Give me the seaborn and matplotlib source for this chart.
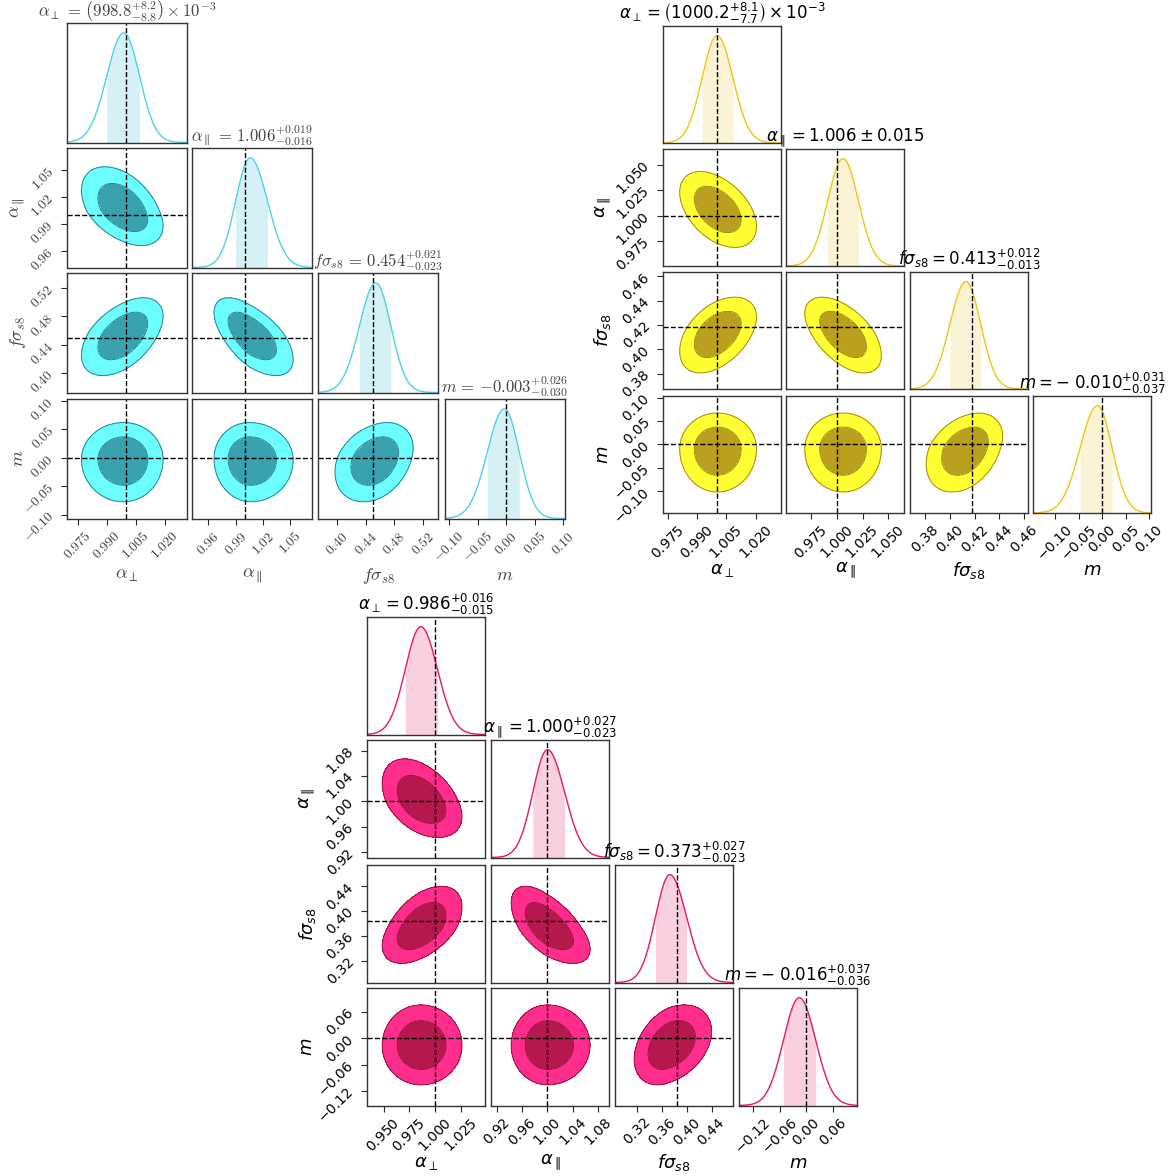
# %%
import numpy as np
import matplotlib.pyplot as plt
import seaborn as sns

sns.set_style("ticks")

# %%
# parameter names (same for the three corner plots)
labels = [r"$\alpha_\perp$", r"$\alpha_\parallel$", r"$f\sigma_{s8}$", r"$m$"]

# cyan chain (top left)
cyan_med = [0.9988, 1.006, 0.454, -0.003]
cyan_up = [0.0082, 0.019, 0.021, 0.026]
cyan_lo = [0.0088, 0.016, 0.023, 0.030]
cyan_truth = [1.0, 1.0, 0.450, 0.0]
cyan_lims = [(0.9694, 1.0316), (0.942, 1.074), (0.373, 0.541), (-0.107, 0.103)]
cyan_ticks = [[0.975, 0.990, 1.005, 1.020], [0.96, 0.99, 1.02, 1.05],
              [0.40, 0.44, 0.48, 0.52], [-0.10, -0.05, 0.00, 0.05, 0.10]]
cyan_dec = [3, 2, 2, 2]
cyan_corr = {(1, 0): -0.45, (2, 0): 0.50, (2, 1): -0.60,
             (3, 0): 0.0, (3, 1): -0.02, (3, 2): 0.30}
cyan_titles = [r"$\alpha_\perp \,=\, \left(998.8^{+8.2}_{-8.8}\right) \times 10^{-3}$",
               r"$\alpha_\parallel \,=\, 1.006^{+0.019}_{-0.016}$",
               r"$f\sigma_{s8} \,=\, 0.454^{+0.021}_{-0.023}$",
               r"$m \,=\, {-0.003}^{+0.026}_{-0.030}$"]

# yellow chain (top right)
yel_med = [1.0002, 1.006, 0.413, -0.010]
yel_up = [0.0081, 0.015, 0.012, 0.031]
yel_lo = [0.0077, 0.015, 0.013, 0.037]
yel_truth = [1.0, 1.0, 0.418, 0.0]
yel_lims = [(0.9725, 1.0329), (0.9504, 1.0654), (0.3675, 0.4635), (-0.147, 0.1036)]
yel_ticks = [[0.975, 0.990, 1.005, 1.020], [0.975, 1.000, 1.025, 1.050],
             [0.38, 0.40, 0.42, 0.44, 0.46], [-0.10, -0.05, 0.00, 0.05, 0.10]]
yel_dec = [3, 3, 2, 2]
yel_corr = {(1, 0): -0.45, (2, 0): 0.45, (2, 1): -0.55,
            (3, 0): 0.0, (3, 1): 0.0, (3, 2): 0.35}
yel_titles = [r"$\alpha_\perp = \left(1000.2^{+8.1}_{-7.7}\right) \times 10^{-3}$",
              r"$\alpha_\parallel = 1.006 \pm 0.015$",
              r"$f\sigma_{s8} = 0.413^{+0.012}_{-0.013}$",
              r"$m = -\;0.010^{+0.031}_{-0.037}$"]

# magenta chain (bottom)
mag_med = [0.986, 1.000, 0.373, -0.016]
mag_up = [0.016, 0.027, 0.027, 0.037]
mag_lo = [0.015, 0.023, 0.023, 0.036]
mag_truth = [1.0, 1.0, 0.384, 0.0]
mag_lims = [(0.934, 1.048), (0.911, 1.097), (0.285, 0.4745), (-0.1525, 0.1145)]
mag_ticks = [[0.950, 0.975, 1.000, 1.025], [0.92, 0.96, 1.00, 1.04, 1.08],
             [0.32, 0.36, 0.40, 0.44], [-0.12, -0.06, 0.00, 0.06]]
mag_dec = [3, 2, 2, 2]
mag_corr = {(1, 0): -0.42, (2, 0): 0.50, (2, 1): -0.60,
            (3, 0): 0.0, (3, 1): 0.0, (3, 2): 0.35}
mag_titles = [r"$\alpha_\perp = 0.986^{+0.016}_{-0.015}$",
              r"$\alpha_\parallel = 1.000^{+0.027}_{-0.023}$",
              r"$f\sigma_{s8} = 0.373^{+0.027}_{-0.023}$",
              r"$m = -\;0.016^{+0.037}_{-0.036}$"]

# %%
W, H = 1175, 1176
fig = plt.figure(figsize=(W / 100, H / 100), dpi=100)


def add_ax(x, y, w, h):
    return fig.add_axes([x / W, 1 - (y + h) / H, w / W, h / H])


def split_z(v, mu, lo, up):
    return (v - mu) / np.where(v < mu, lo, up)


def corner(med, up, lo, truth, lims, ticks, dec, corr, titles,
           lefts, tops, w, h, cols, mfont, tcol, xoff, yoff):
    line_c, shade_c, inner_c, outer_c, edge_c = cols
    n = len(med)
    for i in range(n):
        for j in range(i + 1):
            ax = add_ax(lefts[j], tops[i], w, h)
            xs = np.linspace(lims[j][0], lims[j][1], 300)
            if i == j:
                pdf = np.exp(-0.5 * split_z(xs, med[i], lo[i], up[i]) ** 2)
                sns.lineplot(x=xs, y=pdf, ax=ax, color=line_c, lw=1)
                xb = np.linspace(med[i] - lo[i], med[i] + up[i], 100)
                pb = np.exp(-0.5 * split_z(xb, med[i], lo[i], up[i]) ** 2)
                ax.fill_between(xb, 0, pb, color=shade_c, lw=0)
                ax.axvline(truth[i], color="k", ls="--", lw=1)
                ax.set_ylim(0, 1.09)
                ax.set_title(titles[i], fontsize=12, color=tcol,
                             math_fontfamily=mfont, pad=4)
            else:
                ys = np.linspace(lims[i][0], lims[i][1], 300)
                X, Y = np.meshgrid(xs, ys)
                zx = split_z(X, med[j], lo[j], up[j])
                zy = split_z(Y, med[i], lo[i], up[i])
                r = corr[(i, j)]
                d2 = (zx ** 2 - 2 * r * zx * zy + zy ** 2) / (1 - r ** 2)
                ax.contourf(X, Y, d2, levels=[0, 2.30, 6.18],
                            colors=[inner_c, outer_c])
                ax.contour(X, Y, d2, levels=[2.30, 6.18], colors=edge_c,
                           linewidths=0.7)
                ax.axvline(truth[j], color="k", ls="--", lw=1)
                ax.axhline(truth[i], color="k", ls="--", lw=1)
                ax.set_ylim(lims[i])
            ax.set_xlim(lims[j])

            if i == n - 1:
                ax.set_xticks(ticks[j], labels=[f"${t:.{dec[j]}f}$" for t in ticks[j]],
                              rotation=45, fontsize=10, color=tcol,
                              math_fontfamily=mfont)
                ax.set_xlabel(labels[j], fontsize=13, color=tcol,
                              math_fontfamily=mfont, va="center")
                ax.xaxis.set_label_coords(0.5, -xoff / h)
            else:
                ax.set_xticks([])
            if j == 0 and i > 0:
                ax.set_yticks(ticks[i], labels=[f"${t:.{dec[i]}f}$" for t in ticks[i]],
                              rotation=45, fontsize=10, color=tcol,
                              math_fontfamily=mfont)
                ax.set_ylabel(labels[i], fontsize=13, color=tcol,
                              math_fontfamily=mfont, va="center", ha="center")
                ax.yaxis.set_label_coords(-yoff / w, 0.5)
            else:
                ax.set_yticks([])
            ax.tick_params(direction="out", length=4, width=0.8)
            for s in ax.spines.values():
                s.set_color("#333333")
                s.set_linewidth(1)


# %%
corner(cyan_med, cyan_up, cyan_lo, cyan_truth, cyan_lims, cyan_ticks, cyan_dec,
       cyan_corr, cyan_titles, [67, 192, 318, 445], [23, 148, 273, 399], 120, 119.5,
       ["#4dd3e2", "#d6f1f5", "#3aa2ae", "#6cfdff", "#2d8390"], "cm", "#444444", 57, 49)

corner(yel_med, yel_up, yel_lo, yel_truth, yel_lims, yel_ticks, yel_dec,
       yel_corr, yel_titles, [663, 786, 910, 1033], [26, 149, 272, 396], 118, 117,
       ["#f3c512", "#faf3d6", "#bba020", "#ffff33", "#9c8a1c"], "dejavusans", "black", 57, 60)

corner(mag_med, mag_up, mag_lo, mag_truth, mag_lims, mag_ticks, mag_dec,
       mag_corr, mag_titles, [367, 491, 615, 739], [617, 740, 865, 988], 118, 117.5,
       ["#e8195c", "#f8d0de", "#b5184d", "#ff2d8b", "#98123f"], "dejavusans", "black", 57, 60)

fig.savefig("out.png", dpi=100)
